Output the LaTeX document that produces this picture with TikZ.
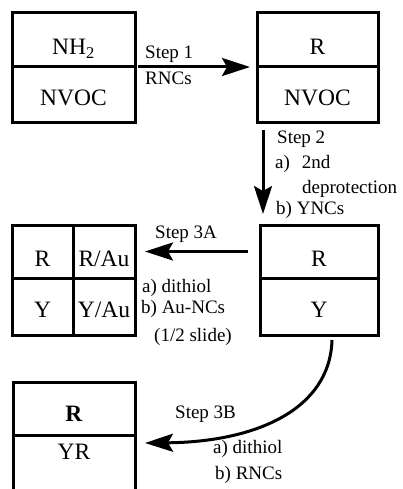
\documentclass[tikz,border=0pt]{standalone}
\usepackage{fontspec}
\setmainfont{Liberation Serif}
\usepackage{tikz}
\usetikzlibrary{arrows.meta, positioning}
\newcommand{\cellfont}{\fontsize{23.5}{27}\selectfont}
\newcommand{\labfont}{\fontsize{19}{23}\selectfont}

\begin{document}
\begin{tikzpicture}[x=1pt, y=-1pt, node distance=0pt,
  c/.style={draw, line width=3pt, inner sep=0pt, outer sep=0pt, font=\cellfont, text depth=0pt},
  up/.style={c, text height=29pt},
  lo/.style={c, text height=21pt},
  l/.style={anchor=base west, inner sep=0pt, font=\labfont},
  arr/.style={line width=3pt, -{Stealth[length=28pt, width=18pt, inset=5pt]}}]
  \clip (0,0) rectangle (403,489);
  \node[up, minimum width=123pt, minimum height=54pt] (nh2) at (73.5,40) {NH\textsubscript{2}};
  \node[lo, minimum width=123pt, minimum height=56pt] (nvoc1) [below=of nh2] {NVOC};
  \node[up, minimum width=121pt, minimum height=54pt] (r2) at (317.5,40) {R};
  \node[lo, minimum width=121pt, minimum height=56pt] (nvoc2) [below=of r2] {NVOC};
  \node[up, minimum width=61pt, minimum height=53pt] (r3) at (42.5,251.5) {R};
  \node[up, minimum width=62pt, minimum height=53pt] (ra3) [right=of r3] {R/Au};
  \node[lo, minimum width=61pt, minimum height=57pt] (y3) [below=of r3] {Y};
  \node[lo, minimum width=62pt, minimum height=57pt] (ya3) [right=of y3] {Y/Au};
  \node[up, minimum width=118pt, minimum height=53pt] (r4) at (319,251.5) {R};
  \node[lo, minimum width=118pt, minimum height=57pt] (y4) [below=of r4] {Y};
  \node[up, minimum width=122pt, minimum height=53pt, text height=25pt] (r5) at (74,408.5) {\textbf{R}};
  \node[c, minimum width=122pt, minimum height=60pt, text depth=26pt] (yr5) [below=of r5] {YR};
  \draw[arr] ([xshift=3pt]nh2.south east) -- ([xshift=-7pt]r2.south west);
  \draw[arr] ([shift={(6,7)}]nvoc2.south west) -- ([shift={(3,-11)}]r4.north west);
  \draw[arr] ([xshift=-12pt]r4.west) -- ([xshift=10pt]ra3.east);
  \draw[arr] ([shift={(13,5)}]y4.south) .. controls +(-2,70) and +(110,-1) .. ([shift={(10,8)}]yr5.north east);
  \node[l] (st1) at (145,58.5) {Step 1};
  \node[l] (rn1) at (145,85) {RNCs};
  \node[l] (st2) at (277,143) {Step 2};
  \node[l] (a2) at (275,168) {a)\hspace{12pt}2nd};
  \node[l] (dp2) at (302,193) {deprotection};
  \node[l] (b2) at (276,214) {b) YNCs};
  \node[l] (st3a) at (155,238) {Step 3A};
  \node[l] (a3a) at (142,292) {a) dithiol};
  \node[l] (b3a) at (141,313) {b) Au-NCs};
  \node[l] (sl3a) at (154,341) {(1/2 slide)};
  \node[l] (st3b) at (175,418) {Step 3B};
  \node[l] (a3b) at (213,453) {a) dithiol};
  \node[l] (b3b) at (215,479) {b) RNCs};
\end{tikzpicture}
\end{document}
